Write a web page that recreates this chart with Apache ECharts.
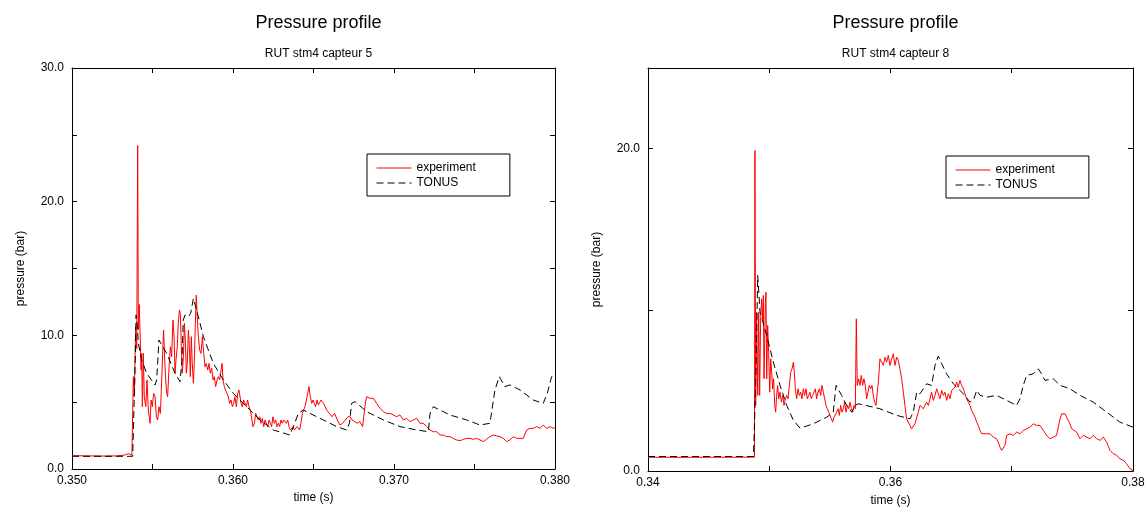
<!DOCTYPE html>
<html><head><meta charset="utf-8">
<script src="https://cdn.jsdelivr.net/npm/echarts@6/dist/echarts.min.js"></script>
<style>html,body{margin:0;padding:0;background:#fff}#c{width:1148px;height:512px}</style>
</head><body><div id="c"></div>
<script>
// ---- data: [time (s), pressure (bar)] ----
const experiment5 = [
[0.3500,1.00],[0.3510,0.98],[0.3520,0.97],[0.3528,0.98],[0.35329,1.05],[0.35350,1.15],[0.35360,1.20],[0.35372,1.05],
[0.35381,6.91],[0.35387,5.41],[0.35395,10.65],[0.35402,9.00],[0.35408,24.2],[0.35412,10.40],[0.35418,12.30],
[0.35429,7.40],[0.35433,8.65],[0.35437,4.66],[0.35443,8.65],[0.35449,5.41],[0.35458,4.66],[0.35466,6.66],[0.35474,4.41],
[0.35485,3.42],[0.35491,5.16],[0.35499,4.66],[0.35507,5.66],[0.35516,5.41],[0.35524,3.91],[0.35532,3.67],[0.35540,4.66],
[0.35549,4.16],[0.35557,6.66],[0.35563,8.65],[0.35569,10.40],[0.35576,8.15],[0.35582,6.66],[0.35588,5.66],[0.35594,5.41],
[0.35603,7.65],[0.35611,9.15],[0.35619,8.40],[0.35627,11.14],[0.35634,9.90],[0.35640,7.16],[0.35646,8.15],[0.35654,9.15],
[0.35660,10.90],[0.35667,11.89],[0.35673,11.64],[0.35679,9.15],[0.35685,7.16],[0.35692,8.40],[0.35698,10.90],[0.35704,9.65],
[0.35710,7.16],[0.35716,7.90],[0.35723,10.40],[0.35729,9.15],[0.35735,6.91],[0.35741,9.90],[0.35747,7.90],[0.35754,6.41],
[0.35760,8.15],[0.35766,10.90],[0.35772,13.01],[0.35779,11.14],[0.35785,9.90],[0.35793,8.90],[0.35801,8.65],[0.35810,9.90],
[0.35818,8.65],[0.35826,7.65],[0.35834,7.90],[0.35843,7.40],[0.35851,7.90],[0.35859,7.16],[0.35868,7.53],[0.35876,6.66],
[0.35884,6.91],[0.35892,6.16],[0.35901,6.66],[0.35909,6.91],[0.35917,6.66],[0.35926,7.40],[0.35932,7.90],[0.35938,6.66],
[0.35946,6.16],[0.35954,5.91],[0.35963,5.66],[0.35971,5.41],[0.35979,4.91],[0.35988,5.16],[0.35996,4.66],[0.36004,4.91],
[0.36012,5.41],[0.36021,4.66],[0.36029,5.66],[0.36037,5.91],[0.36044,6.04],[0.36050,4.91],[0.36058,4.66],[0.36066,5.16],
[0.36075,5.16],[0.36083,4.66],[0.36091,5.16],[0.36099,4.66],[0.36108,4.41],[0.36116,4.41],[0.36124,3.17],[0.36133,3.42],
[0.36141,4.16],[0.36149,4.29],[0.36157,3.67],[0.36166,3.91],[0.36174,3.42],[0.36182,3.79],[0.36191,3.17],[0.36199,3.67],
[0.36207,3.42],[0.36215,3.17],[0.36224,3.67],[0.36232,3.79],[0.36240,3.17],[0.36248,3.91],[0.36257,3.42],[0.36265,3.67],
[0.36273,3.17],[0.36282,3.42],[0.36290,3.17],[0.36298,3.67],[0.36306,3.42],[0.36315,3.67],[0.36323,3.54],[0.36331,3.42],
[0.36340,3.67],[0.36348,3.17],[0.36356,2.92],[0.36364,3.04],[0.36373,3.17],[0.36381,2.92],[0.36389,2.79],[0.36398,3.17],
[0.36406,3.04],[0.36414,2.92],[0.36422,3.42],[0.36431,4.16],[0.36439,4.41],[0.36447,4.66],[0.36456,5.16],[0.36464,5.66],
[0.36472,6.16],[0.36480,5.41],[0.36489,4.91],[0.36497,5.16],[0.36505,4.91],[0.36513,4.66],[0.36522,5.16],[0.36530,4.79],
[0.36538,4.91],[0.36547,5.16],[0.36555,5.29],[0.36563,4.91],[0.36571,4.79],[0.36582,4.41],[0.36598,4.16],[0.36615,3.91],
[0.36631,4.16],[0.36648,3.67],[0.36665,3.29],[0.36681,3.42],[0.36698,3.67],[0.36714,3.91],[0.36727,3.91],[0.36739,3.67],
[0.36756,3.54],[0.36772,3.42],[0.36789,3.54],[0.36805,3.17],[0.36814,3.04],[0.36822,4.91],[0.36830,5.41],[0.36851,5.29],
[0.36872,5.29],[0.36892,4.91],[0.36913,4.54],[0.36934,4.29],[0.36954,4.16],[0.36975,4.16],[0.36996,4.04],[0.37016,3.91],
[0.37037,4.04],[0.37058,3.67],[0.37079,3.79],[0.37099,3.54],[0.37120,3.67],[0.37141,3.79],[0.37161,3.42],[0.37182,3.42],
[0.37203,3.17],[0.37224,2.92],[0.37244,2.79],[0.37265,2.79],[0.37286,2.54],[0.37306,2.54],[0.37327,2.42],[0.37348,2.42],
[0.37368,2.29],[0.37389,2.17],[0.37410,2.12],[0.37431,2.22],[0.37451,2.29],[0.37472,2.29],[0.37493,2.22],[0.37513,2.29],
[0.37534,2.17],[0.37555,2.05],[0.37575,2.22],[0.37596,2.42],[0.37617,2.54],[0.37638,2.47],[0.37658,2.42],[0.37679,2.29],
[0.37700,2.05],[0.37720,2.17],[0.37741,2.42],[0.37762,2.29],[0.37783,2.29],[0.37803,2.29],[0.37824,2.92],[0.37845,3.04],
[0.37865,3.04],[0.37886,3.17],[0.37907,3.04],[0.37927,3.29],[0.37948,3.04],[0.37969,3.17],[0.37990,3.04],[0.38000,3.10]
];
const tonus5 = [
[0.3500,0.95],[0.35377,0.95],[0.35385,1.00],[0.35393,8.15],[0.35398,11.52],[0.35406,10.65],[0.35412,9.40],[0.35433,8.15],
[0.35464,7.16],[0.35516,6.28],[0.35526,6.66],[0.35540,9.65],[0.35547,9.77],[0.35588,8.65],[0.35640,7.16],[0.35671,6.53],
[0.35683,8.15],[0.35691,11.14],[0.35702,11.52],[0.35723,11.39],[0.35737,11.64],[0.35754,12.76],[0.35785,11.39],[0.35816,9.90],
[0.35878,7.90],[0.35940,6.66],[0.36002,5.66],[0.36085,4.66],[0.36168,3.67],[0.36251,2.92],[0.36354,2.54],[0.36375,3.17],
[0.36406,4.16],[0.36437,4.41],[0.36478,4.16],[0.36561,3.67],[0.36644,3.17],[0.36706,2.92],[0.36723,3.42],[0.36737,4.91],
[0.36758,5.04],[0.36830,4.29],[0.36934,3.67],[0.37037,3.17],[0.37141,2.92],[0.37213,2.79],[0.37224,4.16],[0.37244,4.66],
[0.37286,4.41],[0.37348,4.04],[0.37451,3.67],[0.37534,3.29],[0.37596,3.42],[0.37627,5.91],[0.37654,6.91],[0.37689,6.16],
[0.37720,6.29],[0.37783,5.91],[0.37865,5.16],[0.37927,4.91],[0.37952,5.66],[0.37979,6.91],[0.38000,7.00]
];
const experiment8 = [
[0.3400,0.85],[0.3450,0.85],[0.34878,0.86],[0.34882,19.88],[0.34888,4.07],[0.34896,9.85],[0.34905,4.69],[0.34913,9.85],
[0.34921,4.69],[0.34929,9.44],[0.34937,10.68],[0.34946,9.44],[0.34951,10.89],[0.34957,5.72],[0.34968,10.47],[0.34973,11.09],
[0.34979,5.72],[0.34987,9.03],[0.34995,7.37],[0.35004,4.89],[0.35012,6.96],[0.35020,6.13],[0.35028,5.10],[0.35036,5.72],
[0.35045,4.07],[0.35053,3.65],[0.35061,4.69],[0.35069,5.31],[0.35078,4.48],[0.35089,4.89],[0.35100,4.27],[0.35111,4.69],
[0.35122,4.07],[0.35133,4.48],[0.35144,4.69],[0.35155,4.48],[0.35166,5.31],[0.35177,6.13],[0.35188,6.34],[0.35199,6.75],
[0.35207,6.13],[0.35215,5.10],[0.35226,4.48],[0.35237,5.10],[0.35248,4.69],[0.35259,4.89],[0.35270,4.48],[0.35281,5.10],
[0.35292,4.69],[0.35303,5.10],[0.35314,4.48],[0.35325,4.69],[0.35336,4.89],[0.35347,4.48],[0.35358,4.69],[0.35369,4.89],
[0.35380,5.10],[0.35391,4.48],[0.35402,4.89],[0.35413,5.10],[0.35424,4.69],[0.35435,5.31],[0.35446,4.89],[0.35457,4.48],
[0.35468,4.07],[0.35479,3.86],[0.35490,3.65],[0.35501,3.45],[0.35512,3.24],[0.35523,3.03],[0.35534,3.34],[0.35545,3.24],
[0.35556,3.65],[0.35567,3.86],[0.35578,3.45],[0.35589,4.07],[0.35600,3.65],[0.35611,3.86],[0.35622,4.27],[0.35633,3.65],
[0.35644,4.07],[0.35655,3.86],[0.35666,4.27],[0.35677,3.86],[0.35688,3.65],[0.35699,4.07],[0.35710,3.86],[0.35718,9.44],
[0.35726,5.31],[0.35737,5.72],[0.35748,5.31],[0.35759,5.93],[0.35770,5.31],[0.35781,5.72],[0.35792,5.31],[0.35803,4.48],
[0.35814,4.89],[0.35825,5.31],[0.35836,5.10],[0.35847,5.31],[0.35858,4.69],[0.35869,4.27],[0.35880,4.07],[0.35891,4.89],
[0.35902,5.72],[0.35913,6.96],[0.35927,6.96],[0.35941,6.55],[0.35955,7.06],[0.35968,6.75],[0.35982,7.17],[0.35996,6.55],
[0.36010,6.96],[0.36023,7.27],[0.36037,6.55],[0.36051,7.06],[0.36064,6.86],[0.36078,6.34],[0.36092,5.72],[0.36106,4.89],
[0.36119,4.07],[0.36133,3.24],[0.36147,3.14],[0.36161,2.83],[0.36174,2.62],[0.36188,2.72],[0.36202,2.93],[0.36216,3.03],
[0.36229,3.65],[0.36243,4.07],[0.36257,4.17],[0.36271,3.86],[0.36284,4.07],[0.36298,4.27],[0.36312,4.07],[0.36326,4.48],
[0.36339,4.89],[0.36353,4.38],[0.36367,4.69],[0.36381,5.10],[0.36394,4.79],[0.36408,4.48],[0.36422,5.00],[0.36436,4.69],
[0.36449,4.89],[0.36463,4.38],[0.36477,4.79],[0.36491,4.48],[0.36504,5.00],[0.36518,5.10],[0.36532,5.20],[0.36546,5.51],
[0.36559,5.20],[0.36573,5.62],[0.36587,5.31],[0.36601,5.10],[0.36614,4.79],[0.36628,4.48],[0.36642,4.27],[0.36656,4.07],
[0.36669,3.76],[0.36683,3.55],[0.36697,3.34],[0.36711,3.03],[0.36724,2.83],[0.36738,2.52],[0.36752,2.31],[0.36766,2.41],
[0.36779,2.31],[0.36793,2.21],[0.36821,2.31],[0.36848,2.10],[0.36875,2.00],[0.36889,1.79],[0.36903,1.48],[0.36917,1.28],
[0.36930,1.17],[0.36944,1.59],[0.36958,2.21],[0.36985,2.31],[0.37013,2.21],[0.37040,2.41],[0.37068,2.31],[0.37095,2.52],
[0.37123,2.62],[0.37150,2.72],[0.37178,2.93],[0.37205,2.83],[0.37233,2.83],[0.37260,2.52],[0.37288,2.21],[0.37315,2.00],
[0.37343,2.10],[0.37370,2.21],[0.37384,2.72],[0.37398,3.24],[0.37412,3.55],[0.37425,3.45],[0.37439,3.55],[0.37453,3.34],
[0.37466,3.14],[0.37480,2.93],[0.37494,2.62],[0.37508,2.52],[0.37535,2.41],[0.37563,2.00],[0.37590,2.21],[0.37618,2.10],
[0.37645,2.00],[0.37673,2.21],[0.37700,2.00],[0.37728,1.90],[0.37755,2.10],[0.37769,2.21],[0.37783,1.79],[0.37810,1.28],
[0.37838,1.07],[0.37865,0.97],[0.37893,0.76],[0.37920,0.66],[0.37947,0.45],[0.37975,0.14],[0.38000,0.02]
];
const tonus8 = [
[0.3400,0.90],[0.3487,0.90],[0.34882,1.00],[0.34890,6.00],[0.34905,12.13],[0.34924,9.85],[0.34979,8.41],[0.35034,6.75],
[0.35089,5.31],[0.35144,4.07],[0.35199,3.14],[0.35254,2.66],[0.35309,2.79],[0.35364,2.93],[0.35419,3.14],[0.35474,3.34],
[0.35528,3.65],[0.35551,5.31],[0.35556,5.41],[0.35597,4.69],[0.35638,4.07],[0.35680,3.65],[0.35707,4.07],[0.35735,4.17],
[0.35858,3.96],[0.35913,3.86],[0.36051,3.45],[0.36161,3.24],[0.36188,3.65],[0.36216,4.89],[0.36243,4.79],[0.36271,5.10],
[0.36298,5.41],[0.36339,5.31],[0.36367,6.55],[0.36394,7.13],[0.36422,6.65],[0.36463,6.03],[0.36518,5.41],[0.36601,4.79],
[0.36656,4.27],[0.36683,4.38],[0.36711,5.00],[0.36738,4.69],[0.36793,4.58],[0.36875,4.69],[0.36958,4.38],[0.37040,4.07],
[0.37068,4.48],[0.37095,5.31],[0.37123,5.93],[0.37178,6.03],[0.37219,6.34],[0.37246,6.03],[0.37274,5.62],[0.37343,5.72],
[0.37398,5.31],[0.37480,5.10],[0.37563,4.69],[0.37673,4.27],[0.37783,3.65],[0.37893,3.03],[0.38000,2.72]
];
const seriesNames = ['experiment', 'TONUS'];
const titles = ['Pressure profile', 'Pressure profile'];
const subtitles = ['RUT stm4 capteur 5', 'RUT stm4 capteur 8'];

// ---- chart ----
const FONT = '"Liberation Sans", Arial, Helvetica, sans-serif';
const chart = echarts.init(document.getElementById('c'), null, {renderer: 'canvas'});
const grids = [
  {left: 72, top: 68, width: 483, height: 401},
  {left: 648, top: 68, width: 485, height: 404}
];
const lblStyle = {color: '#000', fontFamily: FONT, fontSize: 12};
const line = {show: true, onZero: false, lineStyle: {color: '#000', width: 1}};
const tick = {show: true, inside: true, length: 5, lineStyle: {color: '#000', width: 1}};

function xAxes(g, min, max, interval, fmt, nameGap) {
  return [
    {type: 'value', gridIndex: g, min, max, interval, position: 'bottom',
     axisLine: line, axisTick: tick, splitLine: {show: false},
     axisLabel: Object.assign({margin: 6, formatter: fmt}, lblStyle),
     name: 'time (s)', nameLocation: 'middle', nameGap, nameTextStyle: lblStyle},
    {type: 'value', gridIndex: g, min, max, interval, position: 'top',
     axisLine: line, axisTick: tick, splitLine: {show: false}, axisLabel: {show: false}}
  ];
}
function yAxes(g, min, max, interval, fmt, nameGap) {
  return [
    {type: 'value', gridIndex: g, min, max, interval, position: 'left',
     axisLine: line, axisTick: tick, splitLine: {show: false},
     axisLabel: Object.assign({margin: 8, formatter: fmt, showMaxLabel: true}, lblStyle),
     name: 'pressure (bar)', nameLocation: 'middle', nameGap, nameTextStyle: lblStyle},
    {type: 'value', gridIndex: g, min, max, interval, position: 'right',
     axisLine: line, axisTick: tick, splitLine: {show: false}, axisLabel: {show: false}}
  ];
}
const xs = [].concat(
  xAxes(0, 0.35, 0.38, 0.005, v => (Math.round(v * 1000) % 10 === 0 ? v.toFixed(3) : ''), 22),
  xAxes(1, 0.34, 0.38, 0.01, v => (Math.round(v * 100) % 2 === 0 ? v.toFixed(2) : ''), 24)
);
const ys = [].concat(
  yAxes(0, 0, 30, 5, v => (Math.round(v) % 10 === 0 ? v.toFixed(1) : ''), 45),
  yAxes(1, 0, 25, 10, v => (Math.round(v) === 0 || Math.round(v) === 20 ? v.toFixed(1) : ''), 45)
);
const redStyle = {color: '#ff0000', width: 1};
const dashStyle = {color: '#000', width: 1, type: [7, 4]};
function mk(name, data, xi, yi, ls) {
  return {type: 'line', name, data, xAxisIndex: xi, yAxisIndex: yi, showSymbol: false, symbol: 'none',
          lineStyle: ls, itemStyle: {color: ls.color}, animation: false, silent: true};
}
function legend(left, top) {
  return {orient: 'vertical', left, top, itemWidth: 35, itemHeight: 12, itemGap: 3,
          padding: [8, 34, 7, 9], borderColor: '#000', borderWidth: 1, selectedMode: false,
          itemStyle: {color: 'rgba(0,0,0,0)', borderWidth: 0, borderColor: 'rgba(0,0,0,0)'},
          lineStyle: {width: 1},
          data: seriesNames, textStyle: lblStyle};
}
chart.setOption({
  backgroundColor: '#fff',
  animation: false,
  title: [0, 1].map(i => ({
    text: titles[i], subtext: subtitles[i], left: grids[i].left + grids[i].width / 2, top: 9,
    textAlign: 'center', itemGap: 16,
    textStyle: {fontSize: 18, fontWeight: 'normal', color: '#000', fontFamily: FONT},
    subtextStyle: {fontSize: 12, color: '#000', fontFamily: FONT}
  })),
  legend: [legend(367, 154), legend(946, 156)],
  grid: grids,
  xAxis: xs,
  yAxis: ys,
  series: [
    mk(seriesNames[0], experiment5, 0, 0, redStyle),
    mk(seriesNames[1], tonus5, 0, 0, dashStyle),
    mk(seriesNames[0], experiment8, 2, 2, redStyle),
    mk(seriesNames[1], tonus8, 2, 2, dashStyle)
  ]
});
</script></body></html>
